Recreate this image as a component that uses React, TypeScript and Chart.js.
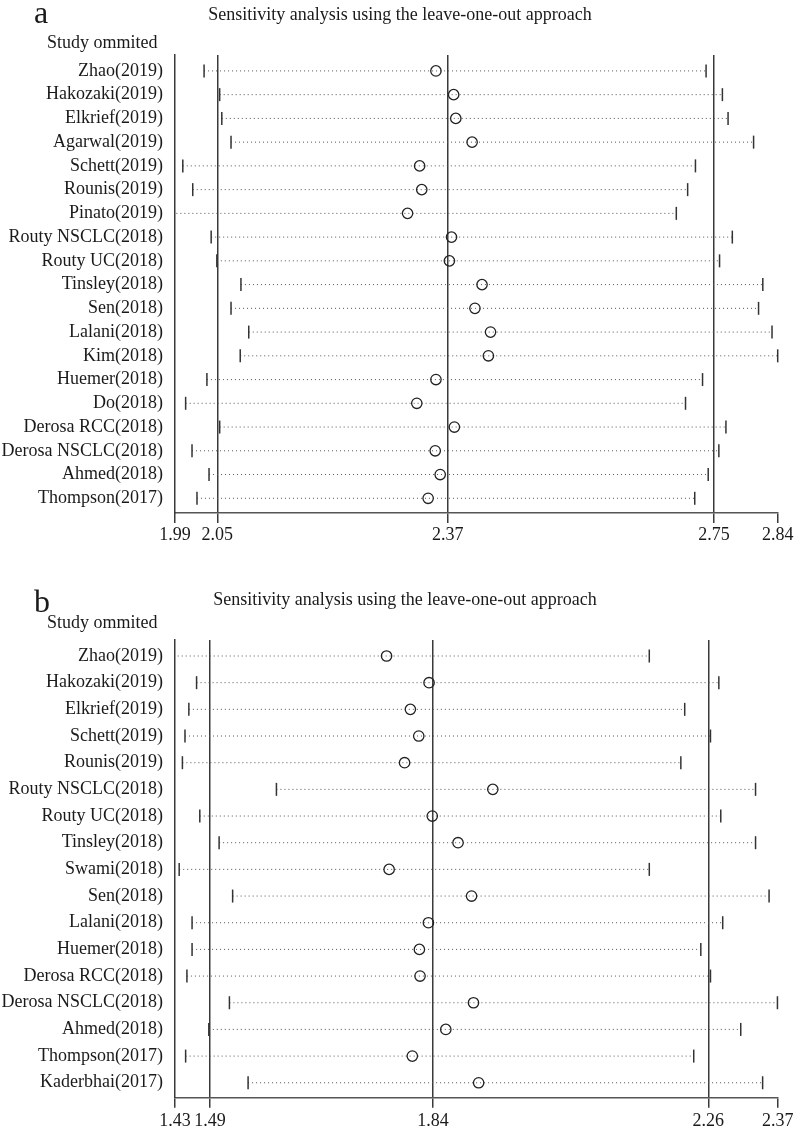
import React, { useEffect, useRef } from "react";
import { Chart, registerables } from "chart.js";

Chart.register(...registerables);

// ---------- Panel a data ----------
const studiesA = [
  "Zhao(2019)", "Hakozaki(2019)", "Elkrief(2019)", "Agarwal(2019)", "Schett(2019)",
  "Rounis(2019)", "Pinato(2019)", "Routy NSCLC(2018)", "Routy UC(2018)", "Tinsley(2018)",
  "Sen(2018)", "Lalani(2018)", "Kim(2018)", "Huemer(2018)", "Do(2018)",
  "Derosa RCC(2018)", "Derosa NSCLC(2018)", "Ahmed(2018)", "Thompson(2017)",
];
const estA = [2.358, 2.383, 2.386, 2.409, 2.335, 2.338, 2.318, 2.380, 2.377, 2.423, 2.413, 2.435, 2.432, 2.358, 2.331, 2.384, 2.357, 2.364, 2.347];
const lowerA = [2.031, 2.053, 2.056, 2.069, 2.001, 2.015, 1.975, 2.041, 2.049, 2.083, 2.069, 2.094, 2.082, 2.035, 2.005, 2.053, 2.014, 2.038, 2.021];
const upperA = [2.739, 2.762, 2.770, 2.806, 2.724, 2.713, 2.697, 2.776, 2.758, 2.819, 2.813, 2.832, 2.840, 2.734, 2.710, 2.767, 2.757, 2.742, 2.723];
const tickValuesA = [1.99, 2.0497, 2.3746, 2.75, 2.84];
const tickLabelsA = ["1.99", "2.05", "2.37", "2.75", "2.84"];

// ---------- Panel b data ----------
const studiesB = [
  "Zhao(2019)", "Hakozaki(2019)", "Elkrief(2019)", "Schett(2019)", "Rounis(2019)",
  "Routy NSCLC(2018)", "Routy UC(2018)", "Tinsley(2018)", "Swami(2018)", "Sen(2018)",
  "Lalani(2018)", "Huemer(2018)", "Derosa RCC(2018)", "Derosa NSCLC(2018)", "Ahmed(2018)",
  "Thompson(2017)", "Kaderbhai(2017)",
];
const estB = [1.763, 1.829, 1.800, 1.813, 1.791, 1.928, 1.834, 1.874, 1.767, 1.895, 1.828, 1.814, 1.815, 1.898, 1.855, 1.803, 1.906];
const lowerB = [1.420, 1.468, 1.456, 1.450, 1.446, 1.592, 1.473, 1.503, 1.441, 1.524, 1.461, 1.461, 1.453, 1.519, 1.487, 1.451, 1.548];
const upperB = [2.171, 2.279, 2.226, 2.266, 2.220, 2.336, 2.282, 2.336, 2.171, 2.357, 2.285, 2.251, 2.266, 2.370, 2.313, 2.240, 2.347];
const tickValuesB = [1.4345, 1.4888, 1.8351, 2.2626, 2.3704];
const tickLabelsB = ["1.43", "1.49", "1.84", "2.26", "2.37"];

const TITLE = "Sensitivity analysis using the leave-one-out approach";
const STUDY_HEADER = "Study ommited";

const FONT = '"Liberation Serif", "Times New Roman", serif';
const W = 800;
const H = 564;

type PanelProps = {
  letter: string;
  studies: string[];
  est: number[];
  lower: number[];
  upper: number[];
  tickValues: number[];
  tickLabels: string[];
  plotTop: number;
  plotBottom: number;
  padTop: number;
  padBottom: number;
  letterY: number;
  titleX: number;
  titleY: number;
  headerY: number;
  labelPad: number;
};

function Panel(p: PanelProps) {
  const ref = useRef<HTMLCanvasElement | null>(null);
  useEffect(() => {
    if (!ref.current) return;
    const n = p.studies.length;
    const nt = p.tickValues.length;
    const lineSets = p.studies.map((_, i) => ({
      type: "line" as const,
      data: [{ x: p.lower[i], y: i }, { x: p.upper[i], y: i }],
      borderColor: "#555",
      borderWidth: 1,
      borderDash: [1, 3],
      pointRadius: 0,
      fill: false,
      showLine: true,
    }));
    const textPlugin = {
      id: "panelText",
      afterDraw(chart: any) {
        const ctx = chart.ctx;
        ctx.save();
        ctx.fillStyle = "#1a1a1a";
        ctx.textBaseline = "alphabetic";
        ctx.textAlign = "left";
        ctx.font = `32px ${FONT}`;
        ctx.fillText(p.letter, 34, p.letterY);
        ctx.font = `18px ${FONT}`;
        ctx.textAlign = "center";
        ctx.fillText(TITLE, p.titleX, p.titleY);
        ctx.textAlign = "left";
        ctx.fillText(STUDY_HEADER, 47, p.headerY);
        ctx.restore();
      },
    };
    const chart = new Chart(ref.current, {
      type: "scatter",
      data: {
        datasets: [
          {
            data: p.est.map((v, i) => ({ x: v, y: i })),
            pointStyle: "circle",
            pointRadius: 5.2,
            pointBorderWidth: 1.3,
            pointBorderColor: "#222",
            pointBackgroundColor: "rgba(255,255,255,0)",
            showLine: false,
          },
          {
            data: p.lower.map((v, i) => ({ x: v, y: i })),
            pointStyle: "line",
            rotation: 90,
            pointRadius: 6.5,
            pointBorderWidth: 1.5,
            pointBorderColor: "#333",
            showLine: false,
            clip: false,
          },
          {
            data: p.upper.map((v, i) => ({ x: v, y: i })),
            pointStyle: "line",
            rotation: 90,
            pointRadius: 6.5,
            pointBorderWidth: 1.5,
            pointBorderColor: "#333",
            showLine: false,
            clip: false,
          },
          ...lineSets,
        ] as any,
      },
      options: {
        animation: false,
        responsive: false,
        maintainAspectRatio: false,
        events: [],
        layout: { padding: { left: 0, top: p.plotTop, right: W - 777.7, bottom: 0 } },
        plugins: { legend: { display: false }, tooltip: { enabled: false }, title: { display: false } },
        scales: {
          x: {
            type: "linear",
            position: "bottom",
            min: p.tickValues[0],
            max: p.tickValues[nt - 1],
            afterBuildTicks: (s: any) => {
              s.ticks = p.tickValues.map((v) => ({ value: v }));
            },
            afterFit: (s: any) => {
              s.height = H - p.plotBottom;
            },
            ticks: {
              autoSkip: false,
              maxRotation: 0,
              minRotation: 0,
              padding: p.labelPad,
              color: "#1a1a1a",
              font: { family: FONT, size: 18 },
              callback: (_v: any, i: number) => p.tickLabels[i],
            },
            grid: {
              display: true,
              drawOnChartArea: true,
              drawTicks: true,
              tickLength: 10,
              lineWidth: 1.5,
              color: (ctx: any) => (ctx.index === 0 || ctx.index === nt - 1 ? "rgba(0,0,0,0)" : "#3a3a3a"),
              tickColor: "#3a3a3a",
            },
            border: { display: true, color: "#555", width: 1.5 },
          },
          y: {
            type: "linear",
            position: "left",
            reverse: true,
            min: -p.padTop,
            max: n - 1 + p.padBottom,
            afterBuildTicks: (s: any) => {
              s.ticks = p.studies.map((_, i) => ({ value: i }));
            },
            afterFit: (s: any) => {
              s.width = 175;
            },
            ticks: {
              autoSkip: false,
              padding: 12,
              color: "#1a1a1a",
              font: { family: FONT, size: 18 },
              callback: (v: any) => p.studies[Math.round(Number(v))],
            },
            grid: { display: false, drawTicks: false },
            border: { display: true, color: "#3a3a3a", width: 1.5 },
          },
        },
      } as any,
      plugins: [textPlugin],
    });
    return () => chart.destroy();
  }, []);
  return <canvas ref={ref} width={W} height={H} style={{ display: "block", width: W, height: H }} />;
}

export default function App() {
  return (
    <div style={{ position: "absolute", left: 0, top: 0, width: W, height: 1128, background: "#fff" }}>
      <Panel
        letter="a"
        studies={studiesA}
        est={estA}
        lower={lowerA}
        upper={upperA}
        tickValues={tickValuesA}
        tickLabels={tickLabelsA}
        plotTop={55}
        plotBottom={513}
        padTop={0.67}
        padBottom={0.62}
        letterY={23}
        titleX={400}
        titleY={20}
        headerY={48}
        labelPad={1}
      />
      <Panel
        letter="b"
        studies={studiesB}
        est={estB}
        lower={lowerB}
        upper={upperB}
        tickValues={tickValuesB}
        tickLabels={tickLabelsB}
        plotTop={76}
        plotBottom={533.7}
        padTop={0.6}
        padBottom={0.56}
        letterY={48}
        titleX={405}
        titleY={41}
        headerY={64}
        labelPad={3}
      />
    </div>
  );
}
